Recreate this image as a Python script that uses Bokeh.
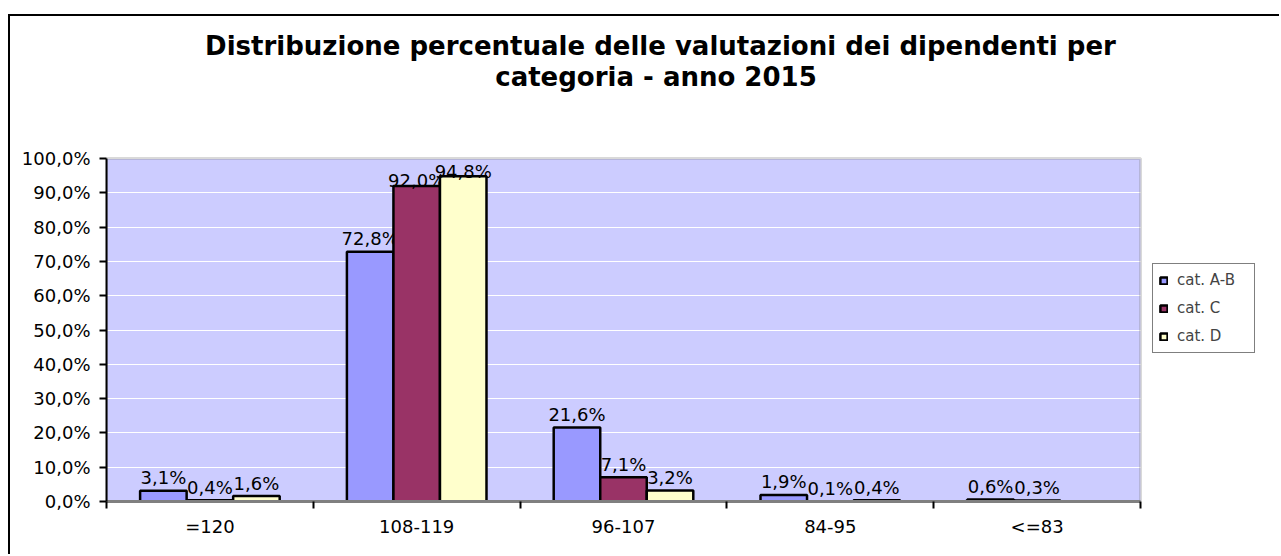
import numpy as np
from bokeh.plotting import figure
from bokeh.models import (ColumnDataSource, FixedTicker, Legend, LegendItem,
                          Label, BoxAnnotation)
from bokeh.core.properties import value
from bokeh.embed import file_html
from bokeh.resources import INLINE

# ---------------- data ----------------
title_lines = ["Distribuzione percentuale delle valutazioni dei dipendenti per",
               "categoria - anno  2015"]
categories = ["=120", "108-119", "96-107", "84-95", "<=83"]
series_names = ["cat. A-B", "cat. C", "cat. D"]
cat_ab = [3.1, 72.8, 21.6, 1.9, 0.6]
cat_c = [0.4, 92.0, 7.1, 0.1, 0.3]
cat_d = [1.6, 94.8, 3.2, 0.4, None]
y_ticks = [0, 10, 20, 30, 40, 50, 60, 70, 80, 90, 100]
y_tick_labels = ["0,0%", "10,0%", "20,0%", "30,0%", "40,0%", "50,0%",
                 "60,0%", "70,0%", "80,0%", "90,0%", "100,0%"]
colors = ["#9999FF", "#993366", "#FFFFCC"]

FONT = "DejaVu Sans"
n = len(categories)
Y_MAX = 100

# ---------------- geometry (window px) ----------------
W, H = 1271, 540                 # canvas, starts at window (10, 16)
PLOT_L, PLOT_R = 106, 1140       # plot area in window px
PLOT_T, PLOT_B = 158, 501
CANVAS_X0, CANVAS_Y0 = 10, 16
FL = PLOT_L - CANVAS_X0
FB = (CANVAS_Y0 + H) - PLOT_B
# the frame spans to the top/right canvas edges; extend ranges accordingly
x_end = n * (CANVAS_X0 + W - PLOT_L) / (PLOT_R - PLOT_L)
y_end = Y_MAX * (PLOT_B - CANVAS_Y0) / (PLOT_B - PLOT_T)

p = figure(width=W, height=H, output_backend="svg", toolbar_location=None,
           x_range=(0, x_end), y_range=(0, y_end),
           min_border_left=FL, min_border_right=0,
           min_border_top=0, min_border_bottom=FB)
p.margin = (14, 0, 0, 8)
p.styles = {"border-left": "2px solid black", "border-top": "2px solid black"}
p.background_fill_color = "white"
p.border_fill_color = "white"
p.outline_line_color = None

# lavender plot area (below the white grid lines)
p.add_layout(BoxAnnotation(left=0, right=n, bottom=0, top=Y_MAX,
                           fill_color="#CCCCFF", fill_alpha=1,
                           line_color=None, level="image"))

p.xgrid.visible = False
p.ygrid.grid_line_color = "white"
p.ygrid.grid_line_width = 1
p.ygrid.ticker = FixedTicker(ticks=y_ticks)

# grey plot-area border
p.add_layout(BoxAnnotation(left=0, right=n, bottom=0, top=Y_MAX,
                           fill_alpha=0, line_color="#808080", line_width=3,
                           level="underlay"))

# y axis
p.yaxis.ticker = FixedTicker(ticks=y_ticks)
p.yaxis.bounds = (0, Y_MAX)
p.yaxis.major_label_overrides = {t: l for t, l in zip(y_ticks, y_tick_labels)}
p.yaxis.axis_line_color = "black"
p.yaxis.axis_line_width = 2
p.yaxis.major_tick_line_color = "black"
p.yaxis.major_tick_line_width = 2
p.yaxis.major_tick_in = 0
p.yaxis.major_tick_out = 7
p.yaxis.minor_tick_line_color = None
p.yaxis.major_label_standoff = 9
p.yaxis.major_label_text_font = FONT
p.yaxis.major_label_text_font_size = "18px"
p.yaxis.major_label_text_color = "black"

# x axis: labels at category centres, tick marks at boundaries
centres = [i + 0.5 for i in range(n)]
bounds = list(range(n + 1))
p.xaxis.ticker = FixedTicker(ticks=centres, minor_ticks=bounds)
p.xaxis.bounds = (0, n)
p.xaxis.major_label_overrides = {c: lab for c, lab in zip(centres, categories)}
p.xaxis.axis_line_color = "#808080"
p.xaxis.axis_line_width = 3
p.xaxis.major_tick_line_color = None
p.xaxis.minor_tick_line_color = "black"
p.xaxis.minor_tick_line_width = 2
p.xaxis.minor_tick_in = 0
p.xaxis.minor_tick_out = 7
p.xaxis.major_label_standoff = 7
p.xaxis.major_label_text_font = FONT
p.xaxis.major_label_text_font_size = "18px"
p.xaxis.major_label_text_color = "black"

# bars
bar_w = 0.225
items = []
for i, (vals, col, name) in enumerate(zip([cat_ab, cat_c, cat_d], colors, series_names)):
    tops = np.array([np.nan if v is None else v for v in vals], dtype=float)
    xs = np.arange(n) + 0.5 + (i - 1) * bar_w
    texts = ["" if v is None else (f"{v:.1f}%").replace(".", ",") for v in vals]
    offs = [-5 if (v is not None and v > 90) else -13 for v in vals]
    src = ColumnDataSource(dict(x=xs, top=tops, text=texts, yoff=offs))
    r = p.vbar(x="x", top="top", bottom=0, width=bar_w, source=src,
               fill_color=col, line_color="black", line_width=2.5)
    p.text(x="x", y="top", text="text", y_offset="yoff", source=src,
           text_align="center", text_baseline="alphabetic",
           text_font=value(FONT), text_font_size="18px", text_color="black")
    items.append(LegendItem(label=name, renderers=[r]))

legend = Legend(items=items, location=(1152 - PLOT_L, PLOT_B - 353),
                border_line_color="black", border_line_width=1,
                background_fill_color="white", background_fill_alpha=1,
                label_text_font=FONT, label_text_font_size="15px",
                glyph_width=9, glyph_height=9, label_height=20, label_width=71,
                spacing=8, padding=6, margin=0, label_standoff=9)
p.add_layout(legend)

# title (two centred lines)
for txt, base in zip(title_lines, [45, 76]):
    p.add_layout(Label(x=660 - PLOT_L, y=PLOT_B - base,
                       x_units="screen", y_units="screen",
                       text=txt, text_align="center", text_baseline="alphabetic",
                       text_font=FONT, text_font_size="26px",
                       text_font_style="bold", text_color="black"))

open("out.html", "w").write(file_html(p, INLINE))
